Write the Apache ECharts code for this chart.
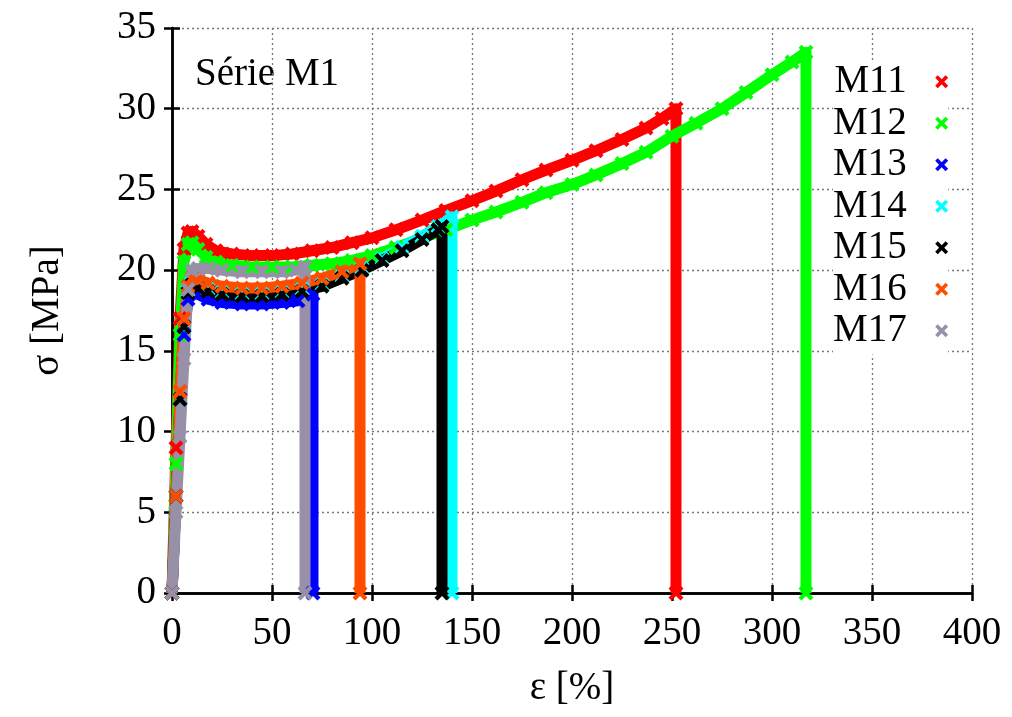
<!DOCTYPE html>
<html>
<head>
<meta charset="utf-8">
<script src="https://cdn.jsdelivr.net/npm/echarts@6/dist/echarts.min.js"></script>
<style>html,body{margin:0;padding:0;background:#fff;}#c{width:1012px;height:717px;}</style>
</head>
<body>
<div id="c"></div>
<script>
// ---- data (strain ε [%], stress σ [MPa]) ----
const seriesNames = ['M11','M12','M13','M14','M15','M16','M17'];
const M11 = [[0,0],[2,9],[4,17],[6,21.3],[8,22.3],[10,22.4],[13,22.1],[17,21.6],[22,21.2],[30,21.0],[40,20.9],[50,20.9],[60,21.0],[70,21.2],[80,21.4],[90,21.7],[100,22.0],[112,22.5],[125,23.1],[137,23.7],[150,24.3],[162,24.9],[175,25.6],[187,26.2],[200,26.8],[212,27.4],[225,28.1],[237,28.8],[245,29.4],[252,30.0],[252,0]];
const M12 = [[0,0],[2,8],[4,16],[6,20.5],[8,21.6],[10,21.7],[13,21.3],[17,20.8],[22,20.5],[30,20.3],[40,20.2],[50,20.2],[60,20.2],[70,20.3],[80,20.4],[90,20.6],[100,20.9],[112,21.4],[125,22.0],[137,22.5],[150,23.1],[162,23.6],[175,24.2],[187,24.8],[200,25.3],[212,25.9],[225,26.6],[237,27.3],[250,28.3],[262,29.1],[275,30.0],[287,31.0],[300,32.1],[310,32.9],[317,33.5],[317,0]];
const M13 = [[0,0],[2,6],[4,12],[6,16],[8,18.2],[10,18.7],[13,18.5],[18,18.2],[25,18.0],[35,17.9],[45,17.9],[55,18.0],[63,18.1],[70.5,18.5],[70.5,0]];
const M14 = [[0,0],[2,6],[4,12],[6,16.5],[8,18.7],[10,19.2],[13,19.0],[18,18.8],[25,18.6],[35,18.5],[45,18.5],[55,18.6],[65,18.8],[75,19.1],[85,19.6],[95,20.1],[105,20.7],[115,21.4],[125,22.1],[133,22.7],[140,23.3],[140,0]];
const M15 = [[0,0],[2,6],[4,12],[6,16.5],[8,18.6],[10,19.1],[13,18.9],[18,18.7],[25,18.5],[35,18.4],[45,18.4],[55,18.5],[65,18.7],[75,19.0],[85,19.5],[95,20.0],[105,20.6],[115,21.2],[125,21.9],[133,22.5],[135,22.7],[135,0]];
const M16 = [[0,0],[2,6],[4,12.5],[6,17],[8,19.0],[10,19.5],[13,19.4],[18,19.2],[25,19.0],[35,18.9],[45,18.9],[55,19.0],[65,19.2],[75,19.5],[85,19.9],[94,20.4],[94,0]];
const M17 = [[0,0],[2,5],[4,9.7],[6,14.5],[8,18.8],[10,20.0],[13,20.1],[18,20.1],[25,20.0],[35,19.9],[45,19.9],[55,19.9],[62,20.0],[66.5,20.2],[66.5,0]];
const xTicks = [0,50,100,150,200,250,300,350,400];
const yTicks = [0,5,10,15,20,25,30,35];
// ---------------------------------------------------------------------

const allData = [M11,M12,M13,M14,M15,M16,M17];
const colors = ['#ff0000','#00ff00','#0000ff','#00ffff','#000000','#ff4d00','#9890a8'];
const X = 'path://M0,2L2,0L5,3L8,0L10,2L7,5L10,8L8,10L5,7L2,10L0,8L3,5Z';
const FONT = 'Liberation Serif';

const chart = echarts.init(document.getElementById('c'), null, {renderer:'canvas'});
const axisCommon = {
  type:'value',
  axisLine:{show:true, lineStyle:{color:'#000', width:2.5}},
  axisTick:{show:true, inside:true, length:8, lineStyle:{color:'#000', width:2.5}},
};
chart.setOption({
  backgroundColor:'#fff',
  animation:false,
  grid:{left:172, right:40, top:28, bottom:124, containLabel:false},
  xAxis:[
    Object.assign({}, axisCommon, {
      min:xTicks[0], max:xTicks[xTicks.length-1], interval:50, position:'bottom',
      name:'ε [%]', nameLocation:'middle', nameGap:76,
      nameTextStyle:{fontFamily:FONT, fontSize:39, color:'#000'},
      axisLabel:{margin:21, fontFamily:FONT, fontSize:39, color:'#000'},
      splitLine:{show:true, lineStyle:{color:'#777', width:1.3, type:[2,3]}}
    }),
    Object.assign({}, axisCommon, {
      min:xTicks[0], max:xTicks[xTicks.length-1], interval:50, position:'top',
      axisLabel:{show:false}, splitLine:{show:false}
    })
  ],
  yAxis:[
    Object.assign({}, axisCommon, {
      min:yTicks[0], max:yTicks[yTicks.length-1], interval:5, position:'left',
      name:'σ [MPa]', nameLocation:'middle', nameGap:105,
      nameTextStyle:{fontFamily:FONT, fontSize:39, color:'#000'},
      axisLabel:{margin:16, fontFamily:FONT, fontSize:39, color:'#000'},
      splitLine:{show:true, lineStyle:{color:'#777', width:1.3, type:[2,3]}}
    }),
    Object.assign({}, axisCommon, {
      min:yTicks[0], max:yTicks[yTicks.length-1], interval:5, position:'right',
      axisLabel:{show:false}, splitLine:{show:false}
    })
  ],
  legend:{
    orient:'vertical', left:833, top:60, align:'right',
    icon:X, itemWidth:60, itemHeight:13, itemGap:2,
    backgroundColor:'#fff', padding:[2,0,4,0],
    textStyle:{fontFamily:FONT, fontSize:39, color:'#000', lineHeight:39.5},
    data:seriesNames
  },
  graphic:[{
    type:'text', left:195, top:55,
    style:{text:'Série M1', font:'39px "Liberation Serif"', fill:'#000'}
  }],
  series: seriesNames.map((n,i)=>({
    name:n, type:'line', data:allData[i], clip:false,
    xAxisIndex:0, yAxisIndex:0,
    symbol:X, symbolSize:15, showAllSymbol:true,
    color:colors[i],
    itemStyle:{color:colors[i]},
    lineStyle:{color:colors[i], width:11, join:'round'},
    emphasis:{disabled:true}
  }))
});
</script>
</body>
</html>
